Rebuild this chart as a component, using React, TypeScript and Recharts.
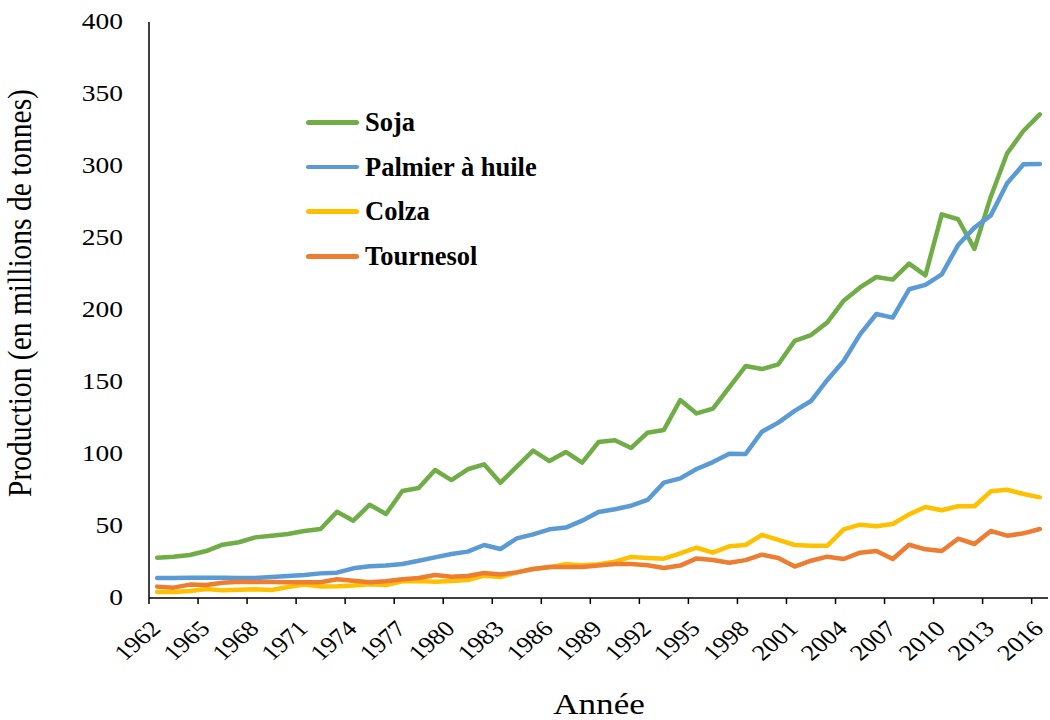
import { LineChart, Line, XAxis, YAxis, Legend } from 'recharts';

// categories (years) and series
const years = [
    1962, 1963, 1964, 1965, 1966, 1967, 1968, 1969, 1970, 1971, 1972, 1973, 1974, 1975,
    1976, 1977, 1978, 1979, 1980, 1981, 1982, 1983, 1984, 1985, 1986, 1987, 1988, 1989,
    1990, 1991, 1992, 1993, 1994, 1995, 1996, 1997, 1998, 1999, 2000, 2001, 2002, 2003,
    2004, 2005, 2006, 2007, 2008, 2009, 2010, 2011, 2012, 2013, 2014, 2015, 2016,
];

const soja = [
    28.0, 28.7, 29.9, 32.6, 37.0, 38.7, 42.1, 43.3, 44.4, 46.5, 47.9, 59.9, 53.7, 64.8,
    58.3, 74.3, 76.4, 88.9, 81.9, 89.4, 92.8, 80.1, 91.2, 102.3, 95.1, 101.4, 94.0, 108.3,
    109.5, 104.2, 114.8, 116.7, 137.5, 128.2, 131.5, 146.3, 161.1, 159.0, 162.3, 178.5, 182.6, 191.4,
    206.5, 215.7, 222.9, 221.1, 232.2, 224.1, 266.4, 263.0, 242.4, 278.7, 308.8, 324.5, 335.9,
];

const palmier = [
    13.9, 13.9, 14.0, 14.1, 14.0, 13.9, 13.9, 14.6, 15.3, 16.0, 17.1, 17.6, 20.6, 22.0,
    22.5, 23.6, 25.9, 28.2, 30.6, 32.2, 36.8, 34.0, 41.4, 44.2, 47.7, 48.9, 53.7, 59.7,
    61.6, 64.1, 68.1, 80.1, 83.1, 89.6, 94.4, 100.2, 100.0, 115.5, 121.8, 129.9, 136.8, 151.4,
    164.6, 183.1, 197.2, 194.7, 214.4, 217.4, 224.8, 245.1, 257.2, 265.7, 288.0, 301.2, 301.4,
];

const colza = [
    4.2, 4.2, 4.9, 6.3, 5.3, 5.8, 6.0, 5.6, 7.6, 9.3, 7.9, 8.1, 8.6, 9.5,
    9.0, 11.6, 11.8, 11.3, 11.8, 12.5, 15.5, 14.6, 17.8, 20.1, 21.3, 23.4, 22.7, 23.4,
    25.2, 28.5, 27.8, 27.3, 31.0, 34.9, 31.5, 35.9, 36.8, 43.8, 40.3, 36.8, 36.3, 36.3,
    47.7, 50.9, 49.8, 51.4, 58.1, 63.2, 60.9, 63.7, 63.7, 74.1, 75.2, 72.2, 69.9,
];

const tournesol = [
    7.9, 7.2, 9.3, 9.0, 10.6, 11.3, 11.1, 11.1, 10.9, 10.9, 10.9, 13.0, 12.0, 10.9,
    11.6, 13.0, 13.9, 16.0, 14.8, 15.3, 17.4, 16.4, 17.8, 20.1, 21.5, 21.5, 21.5, 22.5,
    23.6, 23.6, 22.7, 20.8, 22.5, 27.5, 26.4, 24.5, 26.3, 30.1, 27.8, 21.8, 25.9, 28.7,
    27.1, 31.5, 32.6, 27.1, 37.0, 33.8, 32.6, 41.2, 37.5, 46.5, 43.3, 44.9, 47.9,
];

const yearTicks = [1962, 1965, 1968, 1971, 1974, 1977, 1980, 1983, 1986, 1989, 1992, 1995, 1998, 2001, 2004, 2007, 2010, 2013, 2016];
const valueTicks = [0, 50, 100, 150, 200, 250, 300, 350, 400];

const series = [
    { key: 'soja', name: 'Soja', color: '#70AD47' },
    { key: 'palmier', name: 'Palmier à huile', color: '#5B9BD5' },
    { key: 'colza', name: 'Colza', color: '#FFC000' },
    { key: 'tournesol', name: 'Tournesol', color: '#ED7D31' },
];

const data = years.map((year, i) => ({
    year,
    soja: soja[i],
    palmier: palmier[i],
    colza: colza[i],
    tournesol: tournesol[i],
}));

const FONT = '"Liberation Serif", "Times New Roman", serif';
const W = 1050;
const H = 720;
const LEFT = 149;
const RIGHT = 2;
// the picture is a bit wider than tall, so axis text is stretched sideways
const SX = 1.17;
// half a category, so tick marks sit between years like in Excel
const HALF = (W - LEFT - RIGHT) / years.length / 2;

function XTick(props: any) {
    const { x, y, payload } = props;
    const tx = x + 5;
    const ty = y + 32;
    return (
        <g>
            <line x1={x - HALF} x2={x - HALF} y1={y} y2={y + 6} stroke="#000" strokeWidth={1.5} />
            <text
                transform={`translate(${tx} ${ty}) scale(${SX} 1) rotate(-45)`}
                textAnchor="end"
                fontFamily={FONT}
                fontSize={22.5}
                fill="#000"
            >
                {payload.value}
            </text>
        </g>
    );
}

function YTick(props: any) {
    const { x, y, payload } = props;
    return (
        <text
            transform={`translate(${x} ${y}) scale(${SX} 1)`}
            dy="0.3em"
            textAnchor="end"
            fontFamily={FONT}
            fontSize={23.5}
            fill="#000"
        >
            {payload.value}
        </text>
    );
}

function YTitle() {
    return (
        <text
            transform={`translate(31 293) scale(${SX} 1) rotate(-90)`}
            textAnchor="middle"
            fontFamily={FONT}
            fontSize={29.5}
            fill="#000"
        >
            Production (en millions de tonnes)
        </text>
    );
}

function XTitle() {
    return (
        <text
            transform={`translate(599 714) scale(${SX} 1)`}
            textAnchor="middle"
            fontFamily={FONT}
            fontSize={30}
            fill="#000"
        >
            Année
        </text>
    );
}

function LegendBox() {
    return (
        <div style={{ fontFamily: FONT, fontWeight: 'bold', fontSize: 26.5, color: '#000', lineHeight: 1 }}>
            {series.map((s) => (
                <div key={s.key} style={{ display: 'flex', alignItems: 'center', height: 44.7 }}>
                    <span
                        style={{
                            display: 'inline-block',
                            width: 53,
                            height: 4.5,
                            borderRadius: 3,
                            background: s.color,
                            marginRight: 6,
                        }}
                    />
                    <span>{s.name}</span>
                </div>
            ))}
        </div>
    );
}

export default function App() {
    return (
        <div style={{ position: 'absolute', left: 0, top: 0, width: W, height: H, background: '#fff' }}>
            <LineChart width={W} height={H} data={data} margin={{ top: 22, right: RIGHT, bottom: 0, left: 0 }}>
                <XAxis
                    dataKey="year"
                    type="number"
                    domain={[1961.5, 2016.5]}
                    ticks={yearTicks}
                    interval={0}
                    height={122}
                    tickLine={false}
                    tickSize={0}
                    tickMargin={0}
                    axisLine={{ stroke: '#000', strokeWidth: 1.5 }}
                    tick={<XTick />}
                    label={<XTitle />}
                />
                <YAxis
                    type="number"
                    domain={[0, 400]}
                    ticks={valueTicks}
                    interval={0}
                    width={LEFT}
                    tickLine={false}
                    tickSize={0}
                    tickMargin={26}
                    axisLine={{ stroke: '#000', strokeWidth: 1.5 }}
                    tick={<YTick />}
                    label={<YTitle />}
                />
                <Legend
                    layout="horizontal"
                    verticalAlign="middle"
                    align="center"
                    content={<LegendBox />}
                    wrapperStyle={{ position: 'absolute', left: 306, top: 100, width: 260 }}
                />
                {series.map((s) => (
                    <Line
                        key={s.key}
                        type="linear"
                        dataKey={s.key}
                        name={s.name}
                        stroke={s.color}
                        strokeWidth={4.5}
                        strokeLinejoin="round"
                        strokeLinecap="round"
                        dot={false}
                        activeDot={false}
                        isAnimationActive={false}
                    />
                ))}
            </LineChart>
        </div>
    );
}
